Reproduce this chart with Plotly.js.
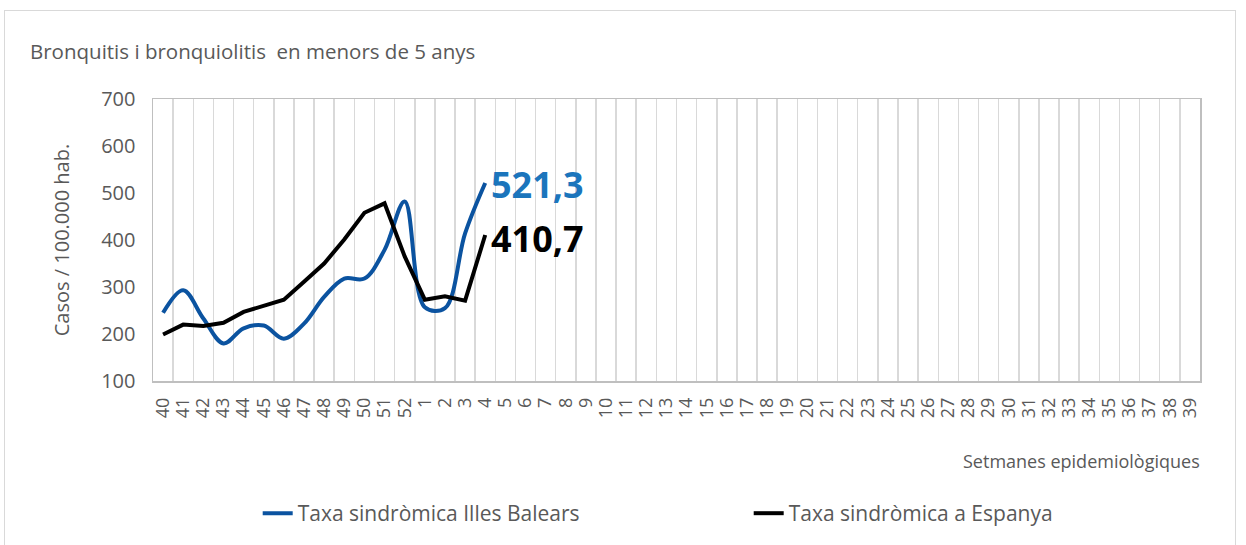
<!DOCTYPE html>
<html>
<head>
<meta charset="utf-8">
<script src="https://cdn.plot.ly/plotly-3.0.1.min.js"></script>
<style>
  html, body { margin: 0; padding: 0; background: #fff; }
  #wrap { position: relative; width: 1246px; height: 545px; overflow: hidden; }
  #frame { position: absolute; left: 4px; top: 10px; width: 1232px; height: 600px; border: 1.5px solid #d9d9d9; box-sizing: border-box; }
  #chart { position: absolute; left: 0; top: 0; width: 1246px; height: 545px; }
</style>
</head>
<body>
<div id="wrap">
  <div id="frame"></div>
  <div id="chart"></div>
</div>
<script>
// Epidemiological weeks (x categories)
const weeks = ['40','41','42','43','44','45','46','47','48','49','50','51','52',
  '1','2','3','4','5','6','7','8','9','10','11','12','13','14','15','16','17','18','19',
  '20','21','22','23','24','25','26','27','28','29','30','31','32','33','34','35','36','37','38','39'];

// Weeks with data so far
const weeksWithData = ['40','41','42','43','44','45','46','47','48','49','50','51','52','1','2','3','4'];

// Taxa sindròmica Illes Balears (cases / 100.000)
const balears = [245, 293, 233, 180, 212, 218, 190, 222, 279, 318, 318, 379, 482, 257, 255, 414, 521.3];

// Taxa sindròmica a Espanya (cases / 100.000)
const espanya = [199, 220, 217, 224, 247, 259, 273, 311, 350, 401, 458, 478, 365, 273, 280, 271, 410.7];

const lastLabelBalears = '521,3';
const lastLabelEspanya = '410,7';

const gray = '#595959';
const fontFam = '"Open Sans", "Noto Sans", sans-serif';
const lastIdx = weeks.indexOf(weeksWithData[weeksWithData.length - 1]);

const traces = [
  {
    x: weeks, y: weeks.map(() => null), type: 'scatter', mode: 'lines',
    showlegend: false, hoverinfo: 'skip', line: {color: 'rgba(0,0,0,0)'}
  },
  {
    x: weeksWithData, y: balears, type: 'scatter', mode: 'lines',
    name: 'Taxa sindròmica Illes Balears',
    line: {color: '#0B53A0', width: 4, shape: 'spline', smoothing: 1}
  },
  {
    x: weeksWithData, y: espanya, type: 'scatter', mode: 'lines',
    name: 'Taxa sindròmica a Espanya',
    line: {color: '#000000', width: 4}
  }
];

const layout = {
  width: 1246, height: 545,
  paper_bgcolor: 'rgba(0,0,0,0)', plot_bgcolor: '#ffffff',
  margin: {l: 153, r: 46, t: 99, b: 164, autoexpand: false},
  font: {family: fontFam, color: gray, size: 20},
  title: {
    text: 'Bronquitis i bronquiolitis  en menors de 5 anys',
    x: 30/1246, xanchor: 'left', xref: 'container',
    y: 1 - 52/545, yanchor: 'middle', yref: 'container',
    font: {family: fontFam, size: 20.5, color: gray}
  },
  xaxis: {
    type: 'category',
    categoryorder: 'array', categoryarray: weeks,
    range: [-0.5, weeks.length - 0.5],
    tickmode: 'linear', tick0: 0, dtick: 1,
    tickson: 'boundaries',
    showgrid: true, gridcolor: '#d9d9d9', gridwidth: 1.5,
    showline: true, linecolor: '#bfbfbf', linewidth: 1.5, mirror: true,
    ticks: '', tickangle: -90,
    tickfont: {family: fontFam, size: 18, color: gray},
    ticklabelstandoff: 8,
    zeroline: false
  },
  yaxis: {
    range: [100, 700], dtick: 100, tick0: 100,
    showgrid: false,
    showline: true, linecolor: '#bfbfbf', linewidth: 1.5, mirror: true,
    ticks: '',
    tickfont: {family: fontFam, size: 20, color: gray},
    ticklabelstandoff: 12,
    zeroline: false,
    title: {text: 'Casos / 100.000 hab.', font: {family: fontFam, size: 20, color: gray}, standoff: 26}
  },
  legend: {
    orientation: 'h', x: 0.1, xanchor: 'left', y: -0.47, yanchor: 'middle',
    font: {family: fontFam, size: 21, color: gray},
    entrywidth: 446, entrywidthmode: 'pixels',
    itemwidth: 30,
    bgcolor: 'rgba(0,0,0,0)'
  },
  annotations: [
    {
      x: lastIdx, y: balears[balears.length - 1], xref: 'x', yref: 'y',
      text: '<b>' + lastLabelBalears + '</b>', showarrow: false,
      xanchor: 'left', yanchor: 'middle', xshift: 4, yshift: -2,
      font: {family: fontFam, size: 36, color: '#1B75BC'}
    },
    {
      x: lastIdx, y: espanya[espanya.length - 1], xref: 'x', yref: 'y',
      text: '<b>' + lastLabelEspanya + '</b>', showarrow: false,
      xanchor: 'left', yanchor: 'middle', xshift: 4, yshift: -4,
      font: {family: fontFam, size: 36, color: '#000000'}
    },
    {
      x: 1.002, y: -0.284, xref: 'paper', yref: 'paper',
      text: 'Setmanes epidemiològiques', showarrow: false,
      xanchor: 'right', yanchor: 'middle',
      font: {family: fontFam, size: 18, color: gray}
    }
  ]
};

Plotly.newPlot('chart', traces, layout, {displayModeBar: false, staticPlot: true});
</script>
</body>
</html>
